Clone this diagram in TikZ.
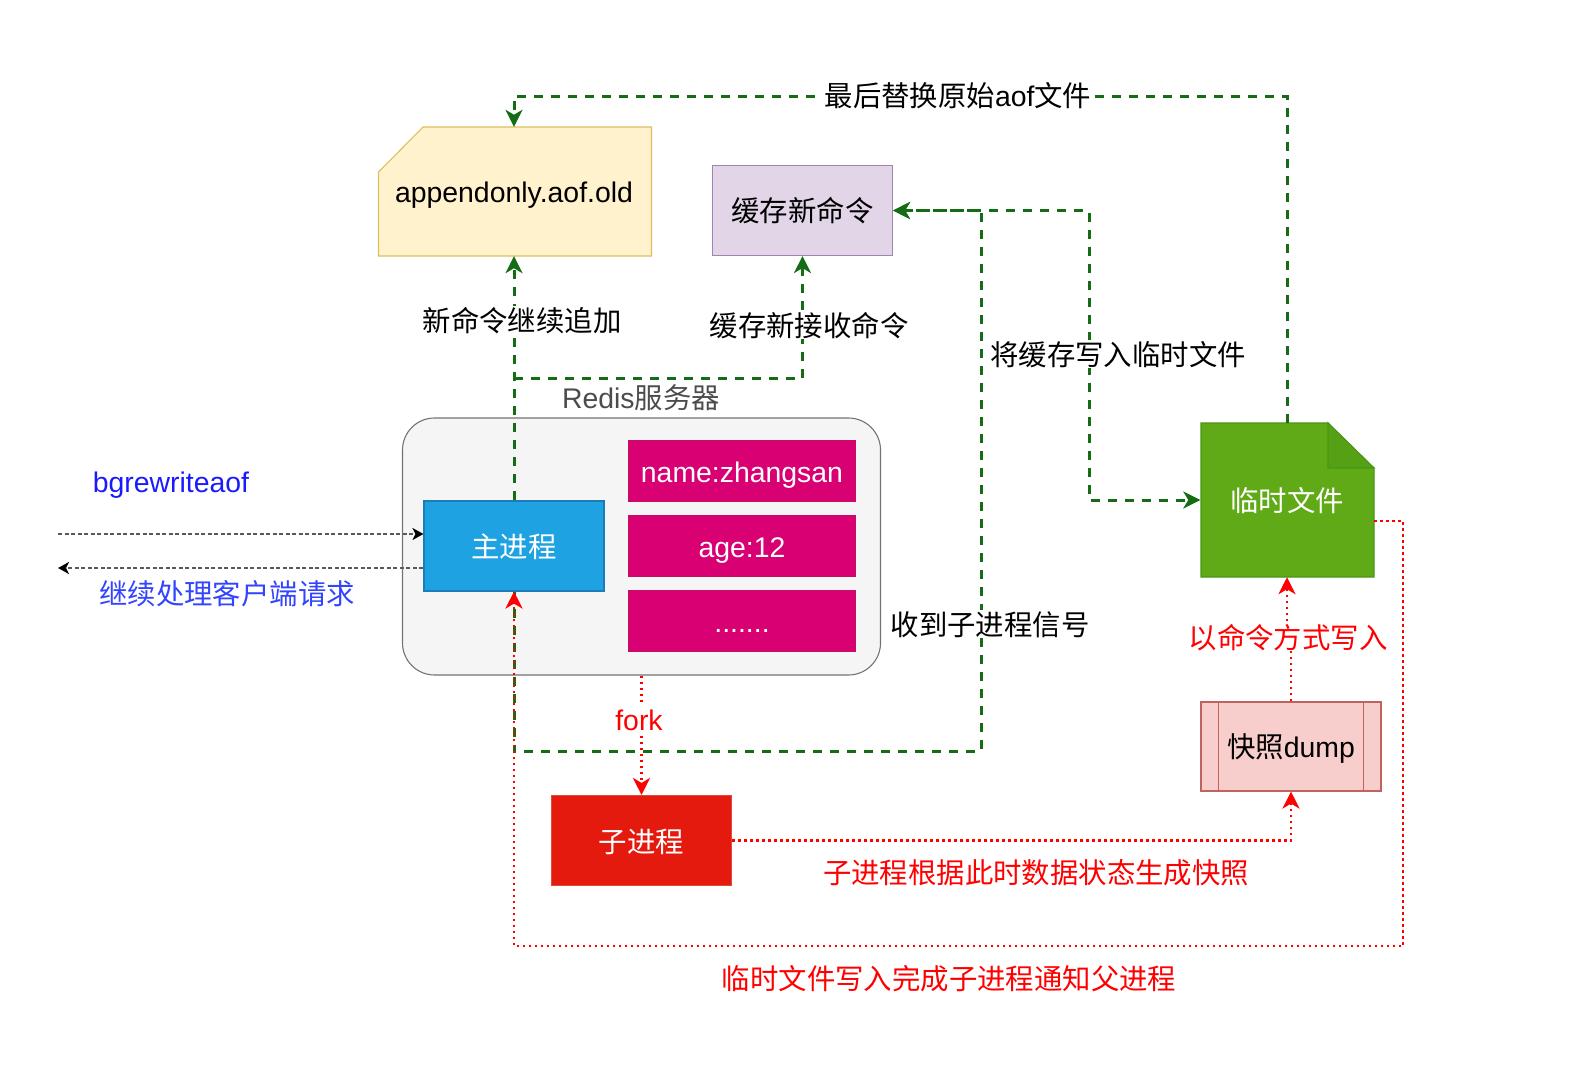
\documentclass[tikz,border=0pt]{standalone}
\usepackage{fontspec}
\setmainfont{Liberation Sans}
\newfontfamily\cjk{Noto Sans CJK SC}
\newcommand{\zh}[1]{{\cjk #1}}
\usepackage{xcolor}
\usetikzlibrary{arrows.meta}
\definecolor{mainblue}{HTML}{1FA2E2}
\definecolor{mainedge}{HTML}{1A7DB8}
\definecolor{cellpink}{HTML}{D80073}
\definecolor{celledge}{HTML}{C0105F}
\definecolor{oldfill}{HTML}{FFF2CC}
\definecolor{oldedge}{HTML}{DCBE62}
\definecolor{cachefill}{HTML}{E1D5E7}
\definecolor{cacheedge}{HTML}{A283B1}
\definecolor{childred}{HTML}{E51A0E}
\definecolor{childedge}{HTML}{E04A3A}
\definecolor{tempgreen}{HTML}{60A917}
\definecolor{tempedge}{HTML}{4A9714}
\definecolor{tempfold}{HTML}{55A015}
\definecolor{dumpfill}{HTML}{F8CECC}
\definecolor{dumpedge}{HTML}{C0625E}
\definecolor{pathgreen}{HTML}{146C14}
\definecolor{askblue}{HTML}{1A1AFF}
\definecolor{replyblue}{HTML}{3344FF}
\begin{document}
\begin{tikzpicture}[x=1pt, y=-1pt, >={Stealth[length=17pt,width=17pt,inset=5pt]},
	every node/.style={font=\fontsize{28.4}{32}\selectfont, inner sep=0pt, text height=24pt, text depth=2pt}]
	\tikzstyle{box}=[draw, line width=1.1pt, rectangle]
	\tikzstyle{cell}=[box, fill=cellpink, draw=celledge, text=white, minimum width=227pt, minimum height=61pt]
	\tikzstyle{proc}=[box, minimum width=180pt, minimum height=90pt]
	\tikzstyle{lab}=[fill=white, inner xsep=2pt, inner ysep=1pt]
	\tikzstyle{greenpath}=[draw=pathgreen, line width=3pt, dash pattern=on 9pt off 8pt]
	\tikzstyle{redpath}=[draw=red, line width=2.8pt, dash pattern=on 2.8pt off 3.2pt]
	\tikzstyle{greypath}=[draw=black!65, line width=2.2pt, dash pattern=on 4pt off 2.5pt,
		>={Stealth[length=11pt,width=12pt,inset=3pt,black]}]
	\useasboundingbox (0,0) rectangle (1586,1087);

	\draw[line width=1.1pt, draw=oldedge, fill=oldfill] (378.5,172) -- (423,127) -- (651.5,127) -- (651.5,256) -- (378.5,256) -- cycle;
	\draw[line width=1.1pt, draw=tempedge, fill=tempgreen] (1201,423) -- (1328,423) -- (1374,468) -- (1374,577) -- (1201,577) -- cycle;
	\draw[line width=1.1pt, draw=tempedge, fill=tempfold] (1328,423) -- (1374,468) -- (1328,468) -- cycle;

	\node[]            (old)    at (514,191.5)   [minimum width=273pt, minimum height=129pt] {appendonly.aof.old};
	\node[box, fill=cachefill, draw=cacheedge] (cache) at (802.5,210.5) [minimum width=180pt, minimum height=90pt] {\zh{缓存新命令}};
	\node[box, rounded corners=32pt, fill=black!4, draw=black!55] (server) at (641.5,546.5) [minimum width=478pt, minimum height=257pt] {};
	\node[proc, fill=mainblue, draw=mainedge, text=white] (main) at (514,546) {\zh{主进程}};
	\node[cell]        (age)[right of=main, node distance=228pt]   {age:12};
	\node[cell]        (name)[above of=age, node distance=75pt]    {name:zhangsan};
	\node[cell]        (rest)[below of=age, node distance=75pt]    {.......};
	\node[proc, fill=childred, draw=childedge, text=white, text depth=0pt] (child) at (641.5,840.5) {\zh{子进程}};
	\node[]            (temp)   at (1287,500)  [minimum width=173pt, minimum height=154pt, text=white] {\zh{临时文件}};
	\node[box, fill=dumpfill, draw=dumpedge] (dump) at (1291,746.5) [minimum width=180pt, minimum height=89pt] {\zh{快照}dump};
	\draw[line width=1.1pt, draw=dumpedge] ([xshift=18pt]dump.north west) -- ([xshift=18pt]dump.south west);
	\draw[line width=1.1pt, draw=dumpedge] ([xshift=-18pt]dump.north east) -- ([xshift=-18pt]dump.south east);

	\coordinate (topline)  at (958,96);
	\coordinate (branch)   at (514,378);
	\coordinate (signal)   at (981,751.5);
	\coordinate (turn)     at (1089,350);
	\coordinate (jog)      at (1289,638);
	\coordinate (outer)    at (1403,946);
	\coordinate (clientin)  at (58,534);
	\coordinate (clientout) at (58,568);

	\draw[greypath,->] (clientin) -- (clientin -| main.west);
	\draw[greypath,->] (clientout -| main.west) -- (clientout);
	\draw[greenpath,->] (temp.north) |- (topline) -- (topline -| old.north) -- (old.north);
	\draw[greenpath,->] (main.north) -- (old.south);
	\draw[greenpath,->] (branch) -| (cache.south);
	\draw[greenpath,->] (main.south) |- (signal) -- (signal |- cache.east) -- (cache.east);
	\draw[greenpath,<->] (cache.east) -| (turn) |- (temp.west);
	\draw[redpath,->] (server.south) -- (child.north);
	\draw[redpath,->] (child.east) -| (dump.south);
	\draw[redpath,->] (dump.north) |- (jog) -| (temp.south);
	\draw[redpath,->] ([yshift=-21pt]temp.east) -| (outer) -| (main.south);

	\node[lab]             (swap)    at (958,95)   {\zh{最后替换原始}aof\zh{文件}};
	\node[lab]             (append)  at (522,320)  {\zh{新命令继续追加}};
	\node[lab]             (buffer)  at (809,325)  {\zh{缓存新接收命令}};
	\node[text=black!70]   (redis)   at (641,397)  {Redis\zh{服务器}};
	\node[lab]             (flush)   at (1118,354) {\zh{将缓存写入临时文件}};
	\node[lab]             (notice)  at (990,624)  {\zh{收到子进程信号}};
	\node[lab, text=red]   (forklab) at (639,719)  {fork};
	\node[lab, text=red]   (cmdlab)  at (1288,637) {\zh{以命令方式写入}};
	\node[text=red]        (snap)    at (1036,872) {\zh{子进程根据此时数据状态生成快照}};
	\node[text=red]        (done)    at (949,978)  {\zh{临时文件写入完成子进程通知父进程}};
	\node[text=askblue]    (ask)     at (171,481)  {bgrewriteaof};
	\node[text=replyblue]  (reply)   at (227,593)  {\zh{继续处理客户端请求}};
\end{tikzpicture}
\end{document}
